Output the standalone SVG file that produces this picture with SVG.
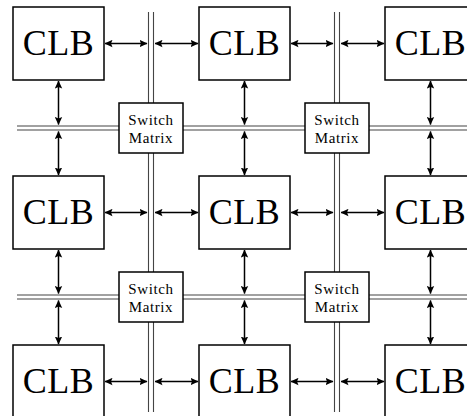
<svg xmlns="http://www.w3.org/2000/svg" width="467" height="416" viewBox="0 0 467 416">
<style>
.clb rect{fill:#fff;stroke:#000;stroke-width:1.5}
.clb text{font-family:"Liberation Serif","DejaVu Serif",serif;font-size:36px;letter-spacing:0.5px;text-anchor:middle;fill:#000}
.sw rect{fill:#fff;stroke:#000;stroke-width:1.5}
.sw text{font-family:"Liberation Serif","DejaVu Serif",serif;font-size:15px;letter-spacing:0.6px;text-anchor:middle;fill:#000}
.bus line{stroke:#444;stroke-width:1.1}
.conn line{stroke:#000;stroke-width:1.5;marker-start:url(#ah);marker-end:url(#ah)}
</style>
<defs>
<marker id="ah" viewBox="0 0 8 8" refX="7.5" refY="4" markerWidth="8" markerHeight="8" markerUnits="userSpaceOnUse" orient="auto-start-reverse">
<path d="M0,0.3 L8,4 L0,7.7 L1.5,4 z" fill="#000"/>
</marker>
</defs>
<rect width="467" height="416" fill="#fff"/>
<g id="buses" class="bus">
<line x1="148.5" y1="12" x2="148.5" y2="412"/>
<line x1="153.5" y1="12" x2="153.5" y2="412"/>
<line x1="334.5" y1="12" x2="334.5" y2="412"/>
<line x1="339.5" y1="12" x2="339.5" y2="412"/>
<line x1="17" y1="126" x2="467" y2="126"/>
<line x1="17" y1="130" x2="467" y2="130"/>
<line x1="17" y1="295" x2="467" y2="295"/>
<line x1="17" y1="299" x2="467" y2="299"/>
</g>
<g id="connectors" class="conn">
<line x1="105" y1="43.5" x2="147" y2="43.5"/>
<line x1="155" y1="43.5" x2="198" y2="43.5"/>
<line x1="291" y1="43.5" x2="333" y2="43.5"/>
<line x1="341" y1="43.5" x2="384" y2="43.5"/>
<line x1="105" y1="212.5" x2="147" y2="212.5"/>
<line x1="155" y1="212.5" x2="198" y2="212.5"/>
<line x1="291" y1="212.5" x2="333" y2="212.5"/>
<line x1="341" y1="212.5" x2="384" y2="212.5"/>
<line x1="105" y1="381.5" x2="147" y2="381.5"/>
<line x1="155" y1="381.5" x2="198" y2="381.5"/>
<line x1="291" y1="381.5" x2="333" y2="381.5"/>
<line x1="341" y1="381.5" x2="384" y2="381.5"/>
<line x1="58.5" y1="81" x2="58.5" y2="124.5"/>
<line x1="58.5" y1="131.5" x2="58.5" y2="175"/>
<line x1="58.5" y1="250" x2="58.5" y2="293.5"/>
<line x1="58.5" y1="300.5" x2="58.5" y2="344"/>
<line x1="244.5" y1="81" x2="244.5" y2="124.5"/>
<line x1="244.5" y1="131.5" x2="244.5" y2="175"/>
<line x1="244.5" y1="250" x2="244.5" y2="293.5"/>
<line x1="244.5" y1="300.5" x2="244.5" y2="344"/>
<line x1="430.5" y1="81" x2="430.5" y2="124.5"/>
<line x1="430.5" y1="131.5" x2="430.5" y2="175"/>
<line x1="430.5" y1="250" x2="430.5" y2="293.5"/>
<line x1="430.5" y1="300.5" x2="430.5" y2="344"/>
</g>
<g id="clb-1-1" class="clb"><rect x="13" y="7" width="91" height="73"/><text x="58.5" y="55">CLB</text></g>
<g id="clb-1-2" class="clb"><rect x="199" y="7" width="91" height="73"/><text x="244.5" y="55">CLB</text></g>
<g id="clb-1-3" class="clb"><rect x="385" y="7" width="91" height="73"/><text x="430.5" y="55">CLB</text></g>
<g id="clb-2-1" class="clb"><rect x="13" y="176" width="91" height="73"/><text x="58.5" y="224">CLB</text></g>
<g id="clb-2-2" class="clb"><rect x="199" y="176" width="91" height="73"/><text x="244.5" y="224">CLB</text></g>
<g id="clb-2-3" class="clb"><rect x="385" y="176" width="91" height="73"/><text x="430.5" y="224">CLB</text></g>
<g id="clb-3-1" class="clb"><rect x="13" y="345" width="91" height="73"/><text x="58.5" y="393">CLB</text></g>
<g id="clb-3-2" class="clb"><rect x="199" y="345" width="91" height="73"/><text x="244.5" y="393">CLB</text></g>
<g id="clb-3-3" class="clb"><rect x="385" y="345" width="91" height="73"/><text x="430.5" y="393">CLB</text></g>
<g id="sw-1-1" class="sw"><rect x="119" y="103" width="64" height="50"/><text x="151" y="125">Switch</text><text x="151" y="142.5">Matrix</text></g>
<g id="sw-1-2" class="sw"><rect x="305" y="103" width="64" height="50"/><text x="337" y="125">Switch</text><text x="337" y="142.5">Matrix</text></g>
<g id="sw-2-1" class="sw"><rect x="119" y="272" width="64" height="50"/><text x="151" y="294">Switch</text><text x="151" y="311.5">Matrix</text></g>
<g id="sw-2-2" class="sw"><rect x="305" y="272" width="64" height="50"/><text x="337" y="294">Switch</text><text x="337" y="311.5">Matrix</text></g>
</svg>
